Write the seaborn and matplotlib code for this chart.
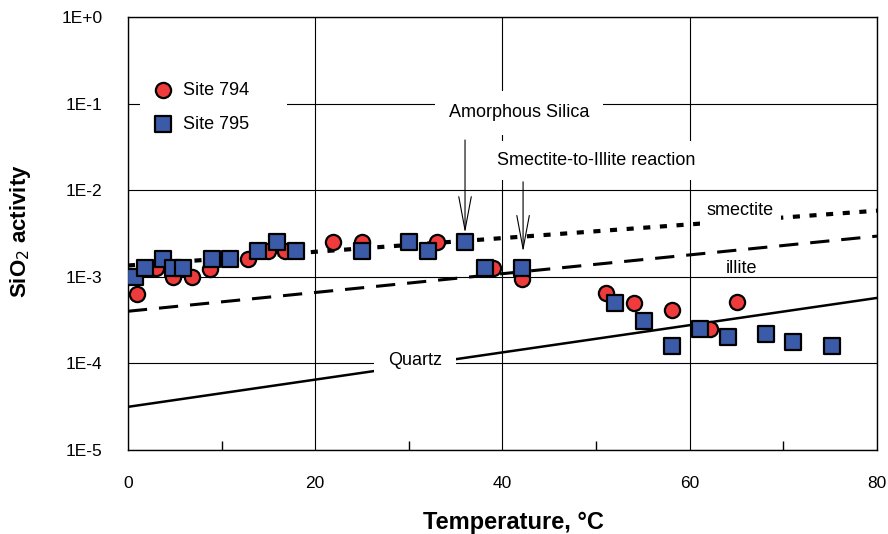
import numpy as np
import pandas as pd
import matplotlib
matplotlib.use("Agg")
import matplotlib.pyplot as plt
import seaborn as sns
from matplotlib.ticker import FixedLocator, FixedFormatter, NullLocator

# Site data (temperature degC, SiO2 activity)
site794_t = [1, 3, 4.8, 6.8, 8.8, 12.8, 15, 16.8, 21.9, 25, 33, 39, 42.1,
             51.1, 54, 58.1, 62.2, 65]
site794_a = [6.3e-4, 1.26e-3, 1.0e-3, 1.0e-3, 1.23e-3, 1.6e-3, 2.0e-3, 2.0e-3,
             2.5e-3, 2.5e-3, 2.5e-3, 1.26e-3, 9.5e-4,
             6.5e-4, 5.0e-4, 4.1e-4, 2.5e-4, 5.1e-4]

site795_t = [0.75, 1.8, 3.7, 4.8, 5.9, 9, 10.9, 13.9, 15.9, 18, 25, 30, 32, 36,
             38.1, 42.1, 52, 55.1, 58.1, 61.1, 64.1, 68.1, 71, 75.2]
site795_a = [1.0e-3, 1.26e-3, 1.6e-3, 1.26e-3, 1.26e-3, 1.6e-3, 1.6e-3, 2.0e-3,
             2.5e-3, 2.0e-3, 2.0e-3, 2.5e-3, 2.0e-3, 2.5e-3,
             1.25e-3, 1.26e-3, 5.0e-4, 3.1e-4, 1.6e-4, 2.5e-4, 2.0e-4, 2.2e-4,
             1.78e-4, 1.6e-4]

# Equilibrium lines (end points)
line_t = [0, 80]
smectite_a = [1.35e-3, 5.8e-3]
illite_a = [4.0e-4, 2.95e-3]
quartz_a = [3.15e-5, 5.7e-4]

y_ticks = [1e-5, 1e-4, 1e-3, 1e-2, 1e-1, 1e0]
y_labels = ["1E-5", "1E-4", "1E-3", "1E-2", "1E-1", "1E+0"]
x_ticks = [0, 20, 40, 60, 80]
x_minor = [10, 30, 50, 70]

sns.set_style("white")
plt.rcParams["font.family"] = ["Liberation Sans", "DejaVu Sans"]
plt.rcParams["text.color"] = "black"
plt.rcParams["axes.labelcolor"] = "black"
plt.rcParams["xtick.color"] = "black"
plt.rcParams["ytick.color"] = "black"

fig = plt.figure(figsize=(8.88, 5.34), dpi=100)
ax = fig.add_axes([0.1441, 0.1573, 0.8435, 0.8109])
ax.set_yscale("log")

lines = pd.DataFrame({"t": line_t, "smectite": smectite_a,
                      "illite": illite_a, "quartz": quartz_a})
sns.lineplot(data=lines, x="t", y="smectite", ax=ax, color="black", lw=3,
             zorder=3)
ax.lines[-1].set_dashes([1.7, 2.3])
sns.lineplot(data=lines, x="t", y="illite", ax=ax, color="black", lw=2.2,
             zorder=3)
ax.lines[-1].set_dashes([6.3, 3.9])
sns.lineplot(data=lines, x="t", y="quartz", ax=ax, color="black", lw=1.8,
             zorder=3)

d794 = pd.DataFrame({"t": site794_t, "a": site794_a})
d795 = pd.DataFrame({"t": site795_t, "a": site795_a})
sns.scatterplot(data=d794, x="t", y="a", ax=ax, marker="o", s=120,
                color="#EF3B3B", edgecolor="black", linewidth=1.6,
                label="Site 794", zorder=4)
sns.scatterplot(data=d795, x="t", y="a", ax=ax, marker="s", s=135,
                color="#3B5BA9", edgecolor="black", linewidth=1.6,
                label="Site 795", zorder=5)

ax.set_xlim(0, 80)
ax.set_ylim(1e-5, 1)
ax.yaxis.set_major_locator(FixedLocator(y_ticks))
ax.yaxis.set_major_formatter(FixedFormatter(y_labels))
ax.yaxis.set_minor_locator(NullLocator())
ax.set_xticks(x_ticks)
ax.xaxis.set_minor_locator(FixedLocator(x_minor))
ax.tick_params(axis="both", which="major", direction="out", length=8.5,
               width=1, labelsize=12.5, pad=10)
ax.tick_params(axis="x", which="minor", direction="in", length=6.5, width=1,
               bottom=True)
ax.grid(True, which="major", color="black", lw=0.8, zorder=0)
ax.set_axisbelow(True)
for s in ax.spines.values():
    s.set_color("black")
    s.set_linewidth(1)

ax.set_xlabel("Temperature, °C", fontsize=17, fontweight="bold")
ax.set_ylabel("SiO$_2$ activity", fontsize=16, fontweight="bold")
ax.xaxis.set_label_coords(0.514, -0.141)
ax.yaxis.set_label_coords(-0.127, 0.505)

box = dict(facecolor="white", edgecolor="none", pad=10)
ax.text(41.8, 0.078, "Amorphous Silica", fontsize=13, ha="center",
        va="center", bbox=box, zorder=6)
ax.text(50.0, 0.022, "Smectite-to-Illite reaction", fontsize=13,
        ha="center", va="center",
        bbox=dict(facecolor="white", edgecolor="none", pad=8), zorder=6)
ax.text(65.4, 10 ** -2.24, "smectite", fontsize=13, ha="center",
        va="center", bbox=dict(facecolor="white", edgecolor="none", pad=5),
        zorder=6)
ax.text(65.5, 10 ** -2.9, "illite", fontsize=13, ha="center", va="center",
        zorder=6)
ax.text(30.7, 10 ** -3.97, "Quartz", fontsize=13, ha="center", va="center",
        bbox=dict(facecolor="white", edgecolor="none", pad=10), zorder=6)

arrow = dict(arrowstyle="->,head_length=2.4,head_width=0.45", lw=0.8,
             color="black", shrinkA=0, shrinkB=0)
ax.annotate("", xy=(36.0, 3.2e-3), xytext=(36.0, 0.038),
            arrowprops=arrow, zorder=6)
ax.annotate("", xy=(42.2, 1.94e-3), xytext=(42.2, 0.0125),
            arrowprops=arrow, zorder=6)

leg = ax.legend(loc="upper left", bbox_to_anchor=(0.016, 0.5, 0.196, 0.376),
                mode="expand", frameon=True, fontsize=13, labelspacing=0.95,
                handlelength=1.4, handletextpad=0.4, borderpad=0.6,
                markerscale=1.0, borderaxespad=0)
leg.get_frame().set_facecolor("white")
leg.get_frame().set_edgecolor("none")
leg.get_frame().set_alpha(1)
leg.set_zorder(7)

fig.savefig("out.png", dpi=100)
